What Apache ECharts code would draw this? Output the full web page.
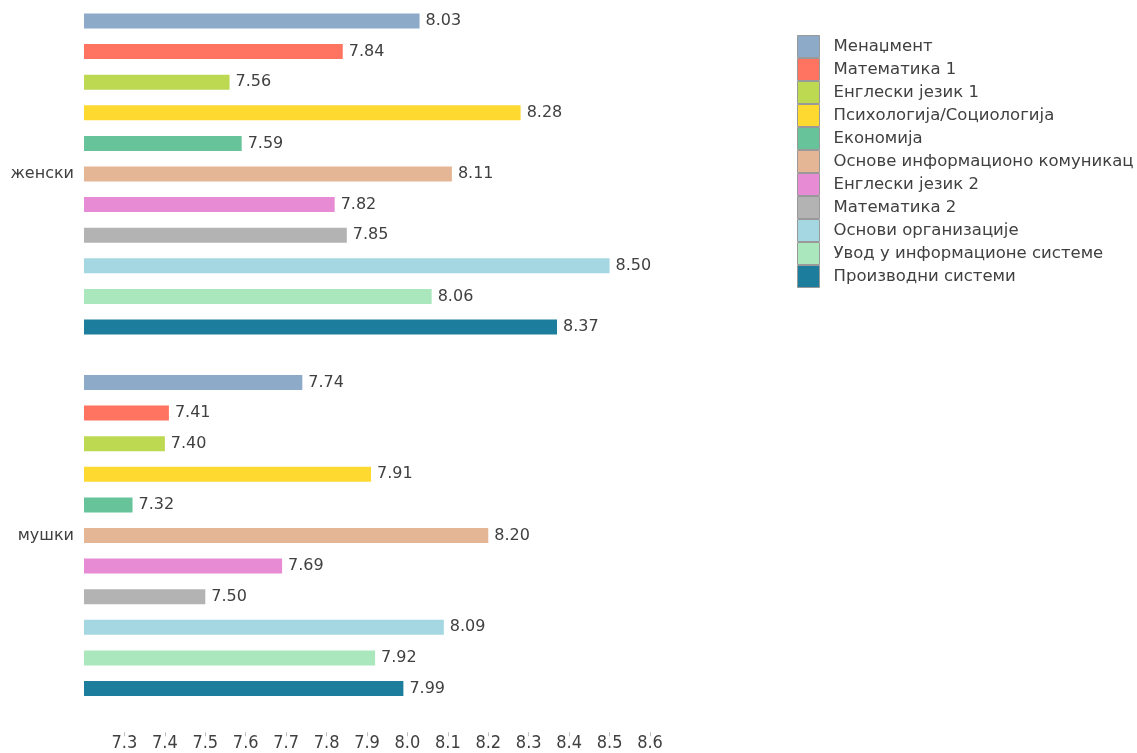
<!DOCTYPE html>
<html>
<head>
<meta charset="utf-8">
<script src="https://cdn.jsdelivr.net/npm/echarts@6/dist/echarts.min.js"></script>
<style>
html,body{margin:0;padding:0;background:#fff;}
#c{width:1137px;height:753px;}
</style>
</head>
<body>
<div id="c"></div>
<script>
const categories = ['женски', 'мушки'];
const subjects = ['Менаџмент', 'Математика 1', 'Енглески језик 1', 'Психологија/Социологија', 'Економија',
  'Основе информационо комуникац', 'Енглески језик 2', 'Математика 2', 'Основи организације',
  'Увод у информационе системе', 'Производни системи'];
const womenValues = [8.03, 7.84, 7.56, 8.28, 7.59, 8.11, 7.82, 7.85, 8.50, 8.06, 8.37];
const menValues = [7.74, 7.41, 7.40, 7.91, 7.32, 8.20, 7.69, 7.50, 8.09, 7.92, 7.99];
const colors = ['#8eaac9', '#fe7461', '#bdd851', '#fed930', '#67c399', '#e5b695', '#e68bd4',
  '#b3b3b3', '#a5d7e2', '#aae7bd', '#1c7e9c'];
const tickValues = [7.3, 7.4, 7.5, 7.6, 7.7, 7.8, 7.9, 8.0, 8.1, 8.2, 8.3, 8.4, 8.5, 8.6];

const FONT = '"DejaVu Sans", Verdana, sans-serif';
const NARROW = '"Liberation Sans Narrow", "DejaVu Sans Condensed", "Liberation Sans", sans-serif';
const chart = echarts.init(document.getElementById('c'), null, {renderer: 'canvas'});

const series = subjects.map((name, i) => ({
  name: name,
  type: 'bar',
  data: [womenValues[i], menValues[i]],
  barWidth: 15,
  barGap: '104%',
  itemStyle: {color: colors[i]},
  label: {
    show: true,
    position: 'right',
    distance: 6,
    color: '#404040',
    fontFamily: FONT,
    fontSize: 16,
    formatter: p => p.value.toFixed(2)
  },
  emphasis: {disabled: true}
}));

chart.setOption({
  animation: false,
  backgroundColor: '#ffffff',
  grid: {left: 84, width: 566, top: -6.75, height: 723, outerBoundsMode: 'none', containLabel: false},
  xAxis: {
    type: 'value',
    min: 7.2,
    max: 8.6,
    interval: 0.1,
    offset: 16,
    splitLine: {show: false},
    axisLine: {show: false},
    axisTick: {show: true, length: 4, lineStyle: {color: '#bbbbbb'}, customValues: tickValues},
    axisLabel: {
      margin: 2,
      color: '#404040',
      fontFamily: NARROW,
      fontSize: 18,
      customValues: tickValues,
      formatter: v => v.toFixed(1)
    }
  },
  yAxis: {
    type: 'category',
    data: categories,
    inverse: true,
    axisLine: {show: false},
    axisTick: {show: false},
    axisLabel: {margin: 10, color: '#404040', fontFamily: FONT, fontSize: 16}
  },
  legend: {
    left: 797,
    top: 35,
    padding: 0,
    orient: 'vertical',
    itemWidth: 22,
    itemHeight: 22,
    itemGap: 0,
    icon: 'rect',
    itemStyle: {borderColor: '#999999', borderWidth: 1},
    textStyle: {color: '#404040', fontFamily: FONT, fontSize: 16.5, padding: [0, 0, 0, 9]},
    data: subjects
  },
  series: series
});
</script>
</body>
</html>
